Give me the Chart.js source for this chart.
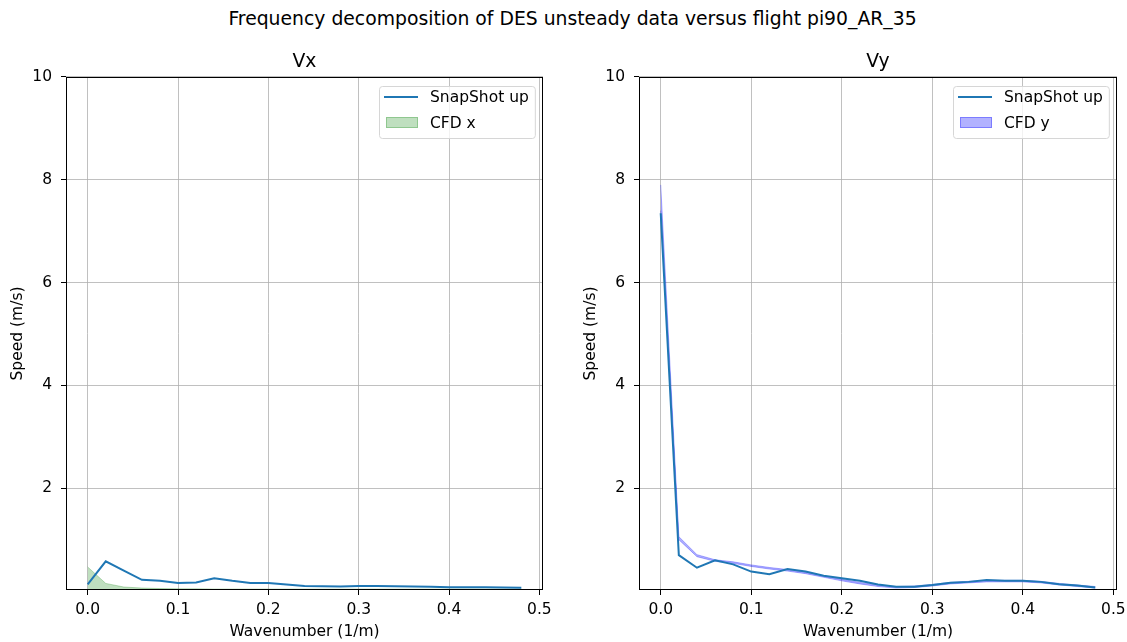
<!DOCTYPE html>
<html>
<head>
<meta charset="utf-8">
<script src="https://cdn.jsdelivr.net/npm/chart.js@4.4.0/dist/chart.umd.min.js"></script>
<style>
  html, body { margin: 0; padding: 0; background: #fff; }
  body { width: 1127px; height: 642px; position: relative; overflow: hidden; font-family: "DejaVu Sans", sans-serif; }
  #suptitle { position: absolute; left: 572.5px; top: 19px; transform: translate(-50%, -50%); font-size: 18.8px; line-height: 1.2; white-space: nowrap; color: #000; }
  canvas { position: absolute; top: 0; }
  #chartVx { left: 0; }
  #chartVy { left: 570px; }
</style>
</head>
<body>
<div id="suptitle">Frequency decomposition of DES unsteady data versus flight pi90_AR_35</div>
<canvas id="chartVx" width="570" height="642"></canvas>
<canvas id="chartVy" width="557" height="642"></canvas>
<script>
// Wavenumber bins (1/m)
const wavenumber = [0.00, 0.02, 0.04, 0.06, 0.08, 0.10, 0.12, 0.14, 0.16, 0.18, 0.20, 0.22, 0.24,
                    0.26, 0.28, 0.30, 0.32, 0.34, 0.36, 0.38, 0.40, 0.42, 0.44, 0.46, 0.48];

// Vx spectra (m/s)
const snapshotVx = [0.13, 0.58, 0.40, 0.22, 0.20, 0.16, 0.17, 0.25, 0.20, 0.16, 0.16, 0.13, 0.10,
                    0.095, 0.09, 0.10, 0.10, 0.095, 0.09, 0.085, 0.075, 0.075, 0.075, 0.07, 0.065];
const cfdX       = [0.47, 0.15, 0.08, 0.06, 0.05, 0.045, 0.045, 0.04, 0.04, 0.04, 0.04, 0.04, 0.04,
                    0.04, 0.04, 0.04, 0.04, 0.04, 0.04, 0.04, 0.04, 0.04, 0.04, 0.04, 0.04];

// Vy spectra (m/s)
const snapshotVy = [7.35, 0.70, 0.455, 0.60, 0.52, 0.38, 0.33, 0.43, 0.38, 0.30, 0.25, 0.20, 0.13,
                    0.085, 0.085, 0.12, 0.165, 0.18, 0.215, 0.20, 0.20, 0.18, 0.135, 0.11, 0.07];
const cfdYLow    = [7.40, 1.00, 0.67, 0.58, 0.54, 0.48, 0.43, 0.39, 0.34, 0.27, 0.20, 0.14, 0.09,
                    0.06, 0.07, 0.10, 0.14, 0.16, 0.18, 0.18, 0.18, 0.16, 0.12, 0.09, 0.06];
const cfdYHigh   = [7.90, 1.06, 0.71, 0.61, 0.57, 0.51, 0.46, 0.42, 0.37, 0.30, 0.23, 0.17, 0.12,
                    0.09, 0.10, 0.13, 0.17, 0.19, 0.21, 0.21, 0.21, 0.19, 0.15, 0.12, 0.09];

// Axis ticks
const xTicks = [0.0, 0.1, 0.2, 0.3, 0.4, 0.5];
const yTicks = [2, 4, 6, 8, 10];

const FONT = '"DejaVu Sans", sans-serif';
const LABEL_SIZE = 15.5;
const TITLE_SIZE = 18.8;
const BLUE = '#1f77b4';
const GREEN_FILL = 'rgba(0,128,0,0.25)';
const PURPLE_FILL = 'rgba(0,0,255,0.3)';

const pts = ys => wavenumber.map((x, i) => ({ x, y: ys[i] }));

// Black frame around the plotting area
const frame = {
  id: 'frame',
  afterDatasetsDraw(chart) {
    const { ctx, chartArea: a } = chart;
    ctx.save();
    ctx.strokeStyle = '#000';
    ctx.lineWidth = 1;
    ctx.strokeRect(Math.round(a.left) + 0.5, Math.round(a.top) + 0.5,
                   Math.round(a.right - a.left) - 1, Math.round(a.bottom - a.top) - 1);
    ctx.restore();
  }
};

// Boxed legend in the upper right corner of the plotting area
const boxLegend = {
  id: 'boxLegend',
  afterDraw(chart, args, opts) {
    const { ctx, chartArea: a } = chart;
    const items = opts.items || [];
    ctx.save();
    ctx.font = LABEL_SIZE + 'px ' + FONT;
    const tw = Math.max(...items.map(it => ctx.measureText(it.label).width));
    const w = 51 + tw + 6, h = 52;
    const x = Math.round(a.right - 8 - w), y = Math.round(a.top + 9);
    ctx.fillStyle = 'rgba(255,255,255,0.8)';
    ctx.strokeStyle = '#d6d6d6';
    ctx.lineWidth = 1;
    ctx.beginPath();
    ctx.roundRect(x + 0.5, y + 0.5, w, h, 3);
    ctx.fill();
    ctx.stroke();
    items.forEach((it, i) => {
      const cy = y + 11 + i * 26;
      if (it.kind === 'line') {
        ctx.strokeStyle = it.color;
        ctx.lineWidth = 2;
        ctx.beginPath();
        ctx.moveTo(x + 5, cy);
        ctx.lineTo(x + 39, cy);
        ctx.stroke();
      } else {
        ctx.fillStyle = it.color;
        ctx.fillRect(x + 7, cy - 6, 32, 11);
        ctx.strokeStyle = it.color;
        ctx.lineWidth = 1;
        ctx.strokeRect(x + 7.5, cy - 5.5, 31, 10);
      }
      ctx.fillStyle = '#000';
      ctx.textBaseline = 'middle';
      ctx.textAlign = 'left';
      ctx.fillText(it.label, x + 51, cy + 1);
    });
    ctx.restore();
  }
};

function makeOptions(title, yTitlePad, legendItems, padLeft, padRight) {
  return {
    responsive: false,
    maintainAspectRatio: false,
    animation: false,
    layout: { padding: { left: padLeft, right: padRight, top: 0, bottom: 0 } },
    plugins: {
      legend: { display: false },
      tooltip: { enabled: false },
      title: {
        display: true, text: title, fullSize: false,
        color: '#000', font: { family: FONT, size: TITLE_SIZE, weight: 'normal' },
        padding: { top: 50.7, bottom: 3.7 }
      },
      boxLegend: { items: legendItems }
    },
    scales: {
      x: {
        type: 'linear', min: -0.024, max: 0.504,
        afterBuildTicks: s => { s.ticks = xTicks.map(v => ({ value: v })); },
        afterFit: s => { s.height = 52; s.paddingLeft = 0; s.paddingRight = 0; },
        ticks: { color: '#000', font: { family: FONT, size: LABEL_SIZE }, padding: 6,
                 callback: v => Number(v).toFixed(1), maxRotation: 0, autoSkip: false },
        grid: { color: '#b0b0b0', lineWidth: 0.8, tickColor: '#000', tickLength: 5, tickWidth: 1 },
        border: { display: false },
        title: { display: true, text: 'Wavenumber (1/m)', color: '#000',
                 font: { family: FONT, size: LABEL_SIZE }, padding: { top: 0, bottom: 1 } }
      },
      y: {
        type: 'linear', min: 0.022, max: 10,
        afterBuildTicks: s => { s.ticks = yTicks.map(v => ({ value: v })); },
        afterFit: s => { s.width = 66; },
        ticks: { color: '#000', font: { family: FONT, size: LABEL_SIZE }, padding: 9,
                 callback: v => String(v), autoSkip: false },
        grid: { color: '#b0b0b0', lineWidth: 0.8, tickColor: '#000', tickLength: 5, tickWidth: 1 },
        border: { display: false },
        title: { display: true, text: 'Speed (m/s)', color: '#000',
                 font: { family: FONT, size: LABEL_SIZE }, padding: { top: yTitlePad, bottom: 0 } }
      }
    }
  };
}

new Chart(document.getElementById('chartVx'), {
  type: 'line',
  data: {
    datasets: [
      { label: 'SnapShot up', data: pts(snapshotVx), borderColor: BLUE, borderWidth: 2,
        pointRadius: 0, tension: 0, fill: false },
      { label: 'CFD x', data: pts(cfdX), borderColor: GREEN_FILL, backgroundColor: GREEN_FILL,
        borderWidth: 1, pointRadius: 0, tension: 0, fill: 'origin' }
    ]
  },
  options: makeOptions('Vx', 8.2,
    [{ kind: 'line', label: 'SnapShot up', color: BLUE },
     { kind: 'patch', label: 'CFD x', color: GREEN_FILL }], 0, 27),
  plugins: [frame, boxLegend]
});

new Chart(document.getElementById('chartVy'), {
  type: 'line',
  data: {
    datasets: [
      { label: 'SnapShot up', data: pts(snapshotVy), borderColor: BLUE, borderWidth: 2,
        pointRadius: 0, tension: 0, fill: false },
      { label: 'CFD y', data: pts(cfdYHigh), borderColor: PURPLE_FILL, backgroundColor: PURPLE_FILL,
        borderWidth: 1, pointRadius: 0, tension: 0, fill: '+1' },
      { label: 'CFD y (lower)', data: pts(cfdYLow), borderColor: PURPLE_FILL,
        borderWidth: 1, pointRadius: 0, tension: 0, fill: false }
    ]
  },
  options: makeOptions('Vy', 8.7,
    [{ kind: 'line', label: 'SnapShot up', color: BLUE },
     { kind: 'patch', label: 'CFD y', color: PURPLE_FILL }], 3, 10),
  plugins: [frame, boxLegend]
});
</script>
</body>
</html>
